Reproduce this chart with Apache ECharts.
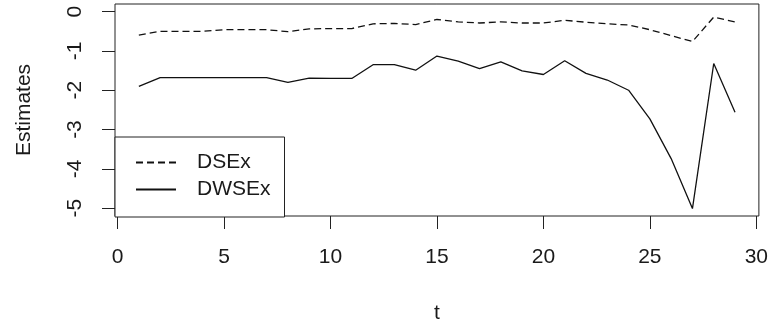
<!DOCTYPE html>
<html>
<head>
<meta charset="utf-8">
<script src="https://cdn.jsdelivr.net/npm/echarts@6/dist/echarts.min.js"></script>
<style>
html,body{margin:0;padding:0;background:#fff;}
#chart{width:771px;height:329px;}
</style>
</head>
<body>
<div id="chart"></div>
<script>
var tValues = [1,2,3,4,5,6,7,8,9,10,11,12,13,14,15,16,17,18,19,20,21,22,23,24,25,26,27,28,29];
var dsex = [-0.60,-0.50,-0.50,-0.50,-0.46,-0.46,-0.46,-0.51,-0.44,-0.43,-0.43,-0.31,-0.30,-0.33,-0.20,-0.26,-0.29,-0.26,-0.29,-0.29,-0.22,-0.27,-0.31,-0.34,-0.46,-0.61,-0.76,-0.14,-0.26];
var dwsex = [-1.90,-1.68,-1.68,-1.68,-1.68,-1.68,-1.68,-1.80,-1.69,-1.70,-1.70,-1.35,-1.35,-1.49,-1.13,-1.26,-1.45,-1.28,-1.51,-1.60,-1.25,-1.57,-1.74,-2.00,-2.73,-3.74,-5.01,-1.32,-2.56];
var xTicks = [0,5,10,15,20,25,30];
var yTicks = [-5,-4,-3,-2,-1,0];
var seriesNames = ['DSEx','DWSEx'];

function pairs(vals){ return tValues.map(function(t,i){ return [t, vals[i]]; }); }

var font = 'Liberation Sans, Arial, sans-serif';
var txt = '#1a1a1a';
var chart = echarts.init(document.getElementById('chart'));
chart.setOption({
  animation: false,
  backgroundColor: '#fff',
  grid: {left: 115, right: 10, top: 4, bottom: 111, show: true, borderColor: '#222', borderWidth: 1, backgroundColor: 'transparent'},
  xAxis: {
    type: 'value', min: -0.12, max: 30.12,
    name: 't', nameLocation: 'middle', nameGap: 87,
    nameTextStyle: {fontFamily: font, fontSize: 21, color: txt},
    axisLine: {show: false, onZero: false},
    axisTick: {show: true, inside: false, length: 13, customValues: xTicks, lineStyle: {color: '#222', width: 1}},
    axisLabel: {customValues: xTicks, margin: 31, fontFamily: font, fontSize: 21, color: txt},
    splitLine: {show: false}
  },
  yAxis: {
    type: 'value', min: -5.2, max: 0.194,
    name: 'Estimates', nameLocation: 'middle', nameGap: 80,
    nameTextStyle: {fontFamily: font, fontSize: 21, color: txt},
    axisLine: {show: false, onZero: false},
    axisTick: {show: true, inside: false, length: 13, customValues: yTicks, lineStyle: {color: '#222', width: 1}},
    axisLabel: {customValues: yTicks, rotate: 90, margin: 29, fontFamily: font, fontSize: 21, color: txt},
    splitLine: {show: false}
  },
  legend: {
    orient: 'vertical', left: 115, top: 137,
    padding: [15, 14, 17, 20],
    itemGap: 6, itemWidth: 40, itemHeight: 21,
    borderColor: '#222', borderWidth: 1, borderRadius: 0,
    backgroundColor: '#fff',
    itemStyle: {color: 'rgba(0,0,0,0)', borderColor: 'rgba(0,0,0,0)', borderWidth: 0},
    textStyle: {fontFamily: font, fontSize: 21, color: txt, padding: [0,0,0,16]},
    data: seriesNames
  },
  series: [
    {name: seriesNames[0], type: 'line', data: pairs(dsex), symbol: 'none', lineStyle: {color: '#111', width: 1.3, type: [7,4]}, itemStyle: {color: '#111'}},
    {name: seriesNames[1], type: 'line', data: pairs(dwsex), symbol: 'none', lineStyle: {color: '#111', width: 1.3, type: 'solid'}, itemStyle: {color: '#111'}}
  ]
});
</script>
</body>
</html>
